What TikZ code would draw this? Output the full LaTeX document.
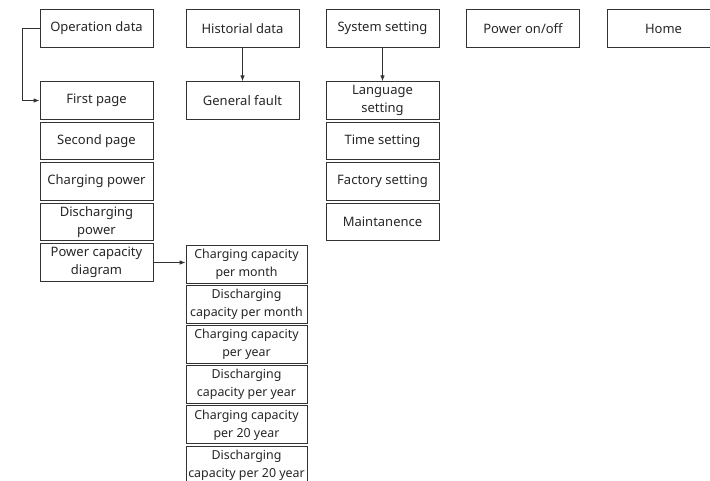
\documentclass[tikz,border=0pt]{standalone}
\usepackage{fontspec}
\setmainfont{Noto Sans}
\usetikzlibrary{arrows.meta}
\tikzset{
  menu/.style={draw=black!80, line width=0.8pt, rectangle, inner sep=0pt,
    minimum width=113pt, minimum height=37.5pt, align=center,
    font=\fontsize{13}{18}\selectfont, text=black!85},
  wide/.style={menu, minimum width=121pt, minimum height=38pt,
    font=\fontsize{12.4}{18}\selectfont},
  link/.style={draw=black!80, line width=0.8pt, -{Latex[length=6pt,width=4.5pt]}}
}
\begin{document}
\begin{tikzpicture}[x=1pt,y=-1pt]
\useasboundingbox (0,0) rectangle (710,480);
% top row
\node[menu] (opdata) at (96.5,28.5) {Operation data};
\node[menu] (hist) at (242.5,28.5) {Historial data};
\node[menu] (sys) at (382.5,28.5) {System setting};
\node[menu] (onoff) at (523,28.5) {Power on/off};
\node[menu] (home) at (663.5,28.5) {Home};
% operation data
\node[menu] (first) at (96.5,100.5) {First page};
\node[menu] (second) at (96.5,141) {Second page};
\node[menu] (chpow) at (96.5,181.5) {Charging power};
\node[menu] (dispow) at (96.5,222) {Discharging\\power};
\node[menu] (pcap) at (96.5,262.5) {Power capacity\\diagram};
\draw[link] (opdata.west) -- ++(-17.5,0) |- (first.west);
% capacity pages
\node[wide] (cmonth) at (246.5,264) {Charging capacity\\per month};
\node[wide] (dmonth) at (246.5,304.2) {Discharging\\capacity per month};
\node[wide] (cyear) at (246.5,344.4) {Charging capacity\\per year};
\node[wide] (dyear) at (246.5,384.6) {Discharging\\capacity per year};
\node[wide] (ctwenty) at (246.5,424.8) {Charging capacity\\per 20 year};
\node[wide] (dtwenty) at (246.5,465) {Discharging\\capacity per 20 year};
\draw[link] (pcap.east) -- (pcap.east -| cmonth.west);
% historial data
\node[menu] (fault) at (242.5,100.5) {General fault};
\draw[link] (hist) -- (fault);
% system setting
\node[menu] (lang) at (382.5,100.5) {Language\\setting};
\node[menu] (time) at (382.5,141) {Time setting};
\node[menu] (factory) at (382.5,181.5) {Factory setting};
\node[menu] (maint) at (382.5,222) {Maintanence};
\draw[link] (sys) -- (lang);
\end{tikzpicture}
\end{document}
